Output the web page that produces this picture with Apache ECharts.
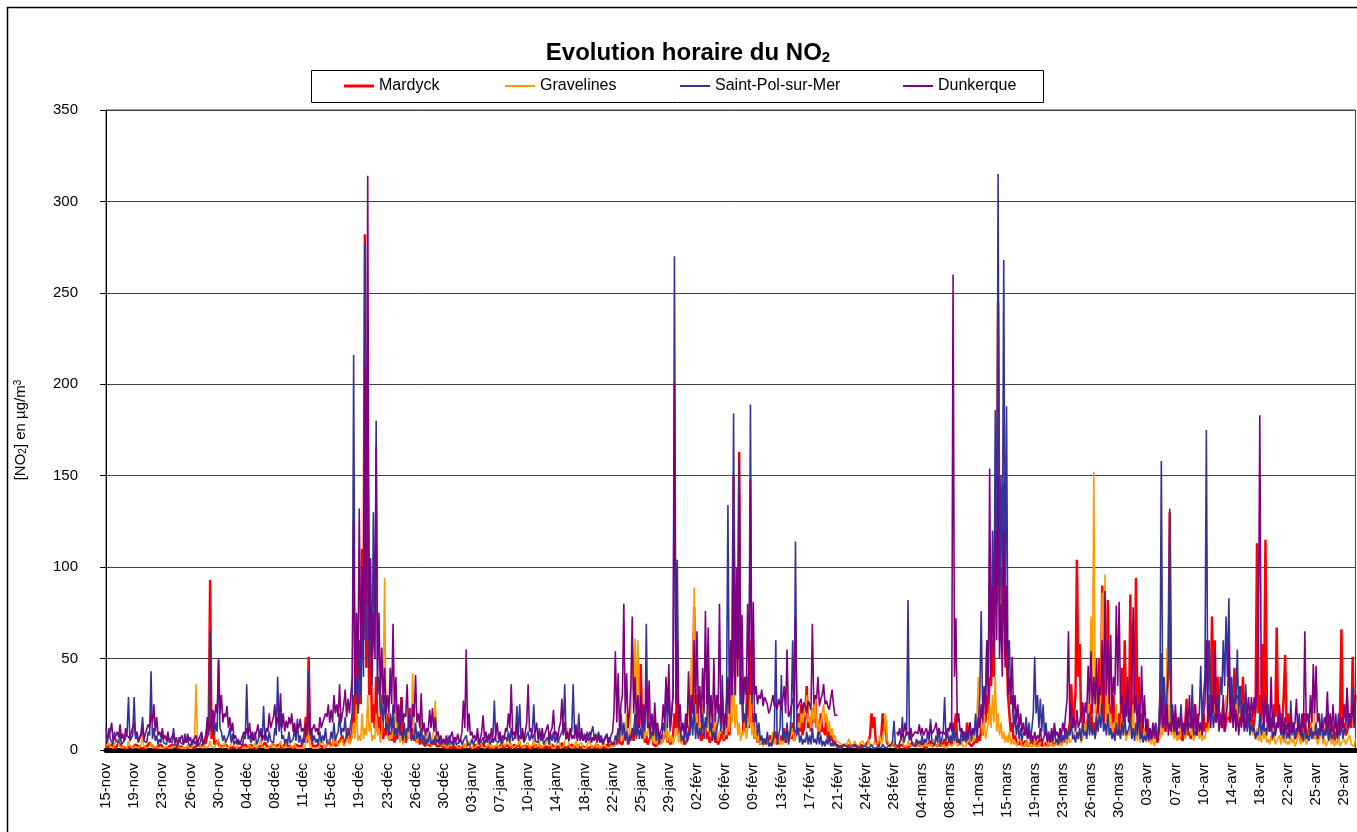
<!DOCTYPE html>
<html>
<head>
<meta charset="utf-8">
<title>Evolution horaire du NO2</title>
<script src="https://cdn.jsdelivr.net/npm/echarts@6/dist/echarts.min.js"></script>
<style>
  html, body { margin: 0; padding: 0; background: #fff; overflow: hidden; }
  #chart { width: 1357px; height: 832px; }
</style>
</head>
<body>
<div id="chart"></div>
<script>
// Axis tick labels, one every 20 samples (samples are 4.5 hours apart)
const tickLabels = ['15-nov','19-nov','23-nov','26-nov','30-nov','04-déc','08-déc','11-déc','15-déc','19-déc',
  '23-déc','26-déc','30-déc','03-janv','07-janv','10-janv','14-janv','18-janv','22-janv','25-janv',
  '29-janv','02-févr','06-févr','09-févr','13-févr','17-févr','21-févr','24-févr','28-févr','04-mars',
  '08-mars','11-mars','15-mars','19-mars','23-mars','26-mars','30-mars','03-avr','07-avr','10-avr',
  '14-avr','18-avr','22-avr','25-avr','29-avr'];
const stepsPerTick = 20;

// NO2 concentrations (µg/m3), one row of 20 samples per tick label
const mardyck = [
  3,1,2,3,4,2,1,1,2,4,5,2,3,1,2,1,1,2,3,1,
  2,3,4,2,3,1,1,1,2,2,3,4,5,2,2,1,1,2,2,3,
  3,1,2,1,1,2,2,3,4,2,2,1,1,2,3,1,2,1,1,2,
  2,2,3,1,1,3,4,2,2,3,3,4,5,12,93,6,20,3,4,5,
  6,2,3,2,2,3,4,1,2,1,1,2,3,1,2,1,1,2,2,3,
  3,1,2,3,4,1,2,1,1,2,3,2,2,4,5,1,2,2,3,3,
  4,2,2,3,3,1,1,3,5,2,2,2,3,1,2,3,4,2,3,2,
  5,8,18,4,51,10,6,2,3,2,2,3,4,2,3,1,2,3,5,3,
  4,3,6,2,3,4,5,6,8,3,4,7,12,4,6,10,30,15,60,20,
  40,25,110,60,282,45,150,30,60,15,25,12,40,10,18,8,30,6,12,8,
  20,6,10,5,15,4,8,6,12,10,29,5,10,4,8,12,23,6,12,5,
  8,4,10,3,6,4,5,2,8,3,4,2,6,3,5,2,3,2,4,2,
  3,1,2,3,4,1,2,2,3,1,1,2,2,1,3,2,2,3,4,1,
  2,1,3,2,1,1,2,3,4,1,2,2,3,1,2,1,1,2,3,1,
  2,3,4,1,3,2,2,1,1,2,3,1,2,3,4,1,2,2,3,2,
  3,1,2,1,1,3,4,1,2,2,3,1,2,2,1,1,2,3,3,1,
  2,2,3,1,4,2,2,1,1,2,2,3,3,1,2,3,4,1,2,2,
  3,1,2,1,1,2,3,1,2,3,2,1,1,2,2,1,3,2,2,3,
  4,2,6,3,10,4,5,3,8,6,12,3,4,8,10,5,15,8,30,12,
  47,15,12,4,8,3,5,6,10,3,4,2,6,3,8,4,5,8,12,4,
  8,3,5,8,20,12,39,8,10,4,6,3,4,5,8,15,40,20,78,18,
  30,8,12,5,8,10,15,6,10,4,6,8,12,4,8,3,5,4,10,5,
  8,6,12,8,20,40,150,30,90,50,163,25,30,10,15,20,40,12,60,15,
  20,6,10,4,8,3,5,4,6,3,4,6,8,3,5,4,10,3,6,4,
  8,5,12,4,6,8,10,6,15,5,8,12,20,10,25,8,12,20,35,12,
  18,10,22,15,30,12,15,8,20,10,12,8,18,6,10,5,8,4,5,3,
  4,2,3,2,2,3,3,2,2,3,4,2,3,2,2,1,3,2,2,2,
  3,2,5,8,20,12,18,5,4,2,3,8,20,10,15,4,3,2,2,3,
  2,2,3,1,2,3,4,2,3,1,2,2,3,4,5,2,2,3,3,2,
  4,2,2,1,3,4,5,2,2,3,3,2,4,2,3,4,6,2,4,3,
  5,3,8,12,20,4,6,3,4,6,10,5,15,4,5,2,3,4,6,4,
  8,5,12,8,20,15,30,20,40,35,60,40,121,80,245,90,100,70,146,50,
  60,30,20,10,15,6,8,4,5,3,6,2,4,3,5,2,3,4,6,3,
  5,2,4,3,6,2,3,4,5,2,4,3,8,2,3,4,5,3,6,4,
  8,4,12,6,10,15,36,12,20,30,104,40,58,15,26,10,15,8,20,12,
  25,10,15,8,18,25,50,20,90,15,30,45,82,25,20,12,30,10,15,8,
  20,12,45,15,60,20,30,15,85,10,25,30,94,20,40,10,20,8,12,6,
  17,6,8,5,10,6,14,4,6,20,53,12,25,10,30,40,130,20,15,8,
  15,8,10,6,12,5,8,15,28,8,10,6,12,20,25,10,8,12,15,10,
  20,10,15,12,30,20,73,25,60,15,40,18,20,12,25,10,15,20,20,15,
  25,20,45,18,30,25,35,15,40,20,30,12,25,15,20,10,15,25,113,20,
  30,15,58,20,115,25,20,10,15,12,25,18,67,15,20,10,15,30,52,15,
  20,8,10,12,15,6,8,10,12,5,10,15,20,6,8,12,15,8,10,6,
  12,6,8,10,15,8,10,12,20,6,8,15,12,5,10,8,6,20,66,12,
  15,8,10,14,20,12,51,18,30
];

const gravelines = [
  2,1,4,2,1,1,3,2,6,3,2,1,1,2,3,1,5,2,2,1,
  1,2,3,1,2,3,8,2,2,1,1,2,4,1,2,2,3,1,1,1,
  2,1,1,2,3,1,2,1,1,2,4,2,2,1,1,1,2,1,3,1,
  1,1,2,8,36,5,4,2,2,1,3,1,1,2,5,2,2,1,3,2,
  6,2,2,1,4,2,3,1,1,3,8,2,2,1,3,2,5,1,2,1,
  1,1,3,1,2,2,4,1,2,3,6,2,3,1,1,1,2,2,4,1,
  3,1,1,2,5,2,2,1,3,4,8,2,2,1,4,1,1,1,2,1,
  2,1,4,3,10,2,3,1,1,1,2,1,3,2,5,1,2,3,6,2,
  3,2,8,3,5,2,4,3,6,2,3,5,10,3,5,8,15,6,25,5,
  8,5,20,6,12,8,30,10,15,5,8,6,20,8,12,4,10,30,94,12,
  15,5,8,6,12,10,25,8,10,4,8,3,6,5,12,6,15,12,42,8,
  10,4,6,8,20,5,8,4,12,3,5,2,8,10,27,6,10,3,6,2,
  4,2,3,1,5,2,2,3,6,2,3,1,2,2,4,1,3,2,5,2,
  3,1,2,2,4,3,6,2,3,1,2,2,5,1,3,1,2,2,4,1,
  2,2,5,2,3,4,8,2,4,1,2,2,3,3,6,2,2,1,3,2,
  4,1,2,3,6,2,3,2,5,1,2,2,3,4,8,2,4,1,2,1,
  3,2,5,1,2,2,4,5,12,3,3,1,2,2,5,1,3,2,4,1,
  2,1,3,2,5,1,2,2,4,1,3,1,2,2,4,2,3,1,2,2,
  3,2,5,4,8,6,15,5,10,8,20,6,8,20,55,30,61,25,60,20,
  25,10,15,6,10,8,20,5,8,4,12,3,5,4,10,3,6,8,15,4,
  10,4,8,3,6,8,12,4,10,3,5,4,8,12,29,15,50,20,89,15,
  20,8,15,10,25,6,10,15,30,8,12,6,20,8,15,5,10,12,25,6,
  12,8,20,10,30,15,40,12,25,8,15,5,10,8,20,6,12,15,30,8,
  15,6,10,4,8,3,6,2,5,3,8,2,4,6,10,3,6,4,8,3,
  5,3,8,6,10,4,6,8,12,5,8,10,15,12,20,15,25,18,30,15,
  18,12,23,15,28,12,17,10,15,20,25,15,20,10,16,8,12,6,8,5,
  6,4,5,3,4,2,3,4,6,3,4,2,5,3,3,2,4,3,5,2,
  3,2,6,3,4,2,5,3,3,4,8,3,6,10,20,6,4,2,3,3,
  5,2,3,2,4,3,6,2,3,2,5,3,4,2,3,4,6,2,4,2,
  3,2,5,2,2,3,4,2,6,3,3,2,5,3,4,2,3,1,2,3,
  4,2,3,4,6,2,2,3,5,2,3,2,4,3,6,4,8,5,10,20,
  40,12,15,8,20,6,10,15,25,12,30,15,40,10,20,8,15,6,10,4,
  8,4,10,3,6,3,5,2,4,3,6,2,3,2,5,2,4,2,3,2,
  5,2,3,2,4,3,6,2,3,2,5,2,4,2,3,3,6,2,5,2,
  4,3,6,3,8,4,5,6,10,5,8,6,12,4,6,10,15,8,20,30,
  73,25,152,20,40,12,20,30,86,40,96,15,30,10,20,8,15,12,25,8,
  12,6,20,8,15,5,10,8,18,6,25,8,10,5,15,4,8,5,12,4,
  10,4,6,3,8,2,5,4,10,6,12,8,20,10,56,12,25,8,15,6,
  10,5,8,6,12,8,15,6,10,12,20,8,12,5,8,10,15,6,10,5,
  8,6,12,10,15,12,20,15,25,18,18,22,20,15,25,20,30,18,20,22,
  25,20,30,22,28,15,20,25,22,12,18,20,25,10,15,8,10,6,12,5,
  8,4,12,6,10,4,6,3,8,5,12,3,5,4,8,3,10,4,6,3,
  5,3,8,4,6,2,4,5,10,3,6,4,8,3,5,6,12,15,38,6,
  8,3,5,4,10,3,6,2,4,5,8,3,6,2,5,3,8,2,4,3,
  6,3,5,4,8,3,4,2,6
];

const saintPol = [
  8,4,12,6,5,3,10,5,6,4,9,3,4,5,7,10,29,5,6,8,
  29,6,8,4,5,10,18,5,6,4,10,8,43,6,12,5,8,3,6,4,
  10,4,5,3,8,5,6,4,12,3,4,2,7,4,5,3,9,4,6,3,
  4,3,6,3,5,2,3,4,8,3,5,6,12,8,65,10,20,8,15,10,
  50,12,10,5,8,4,6,8,12,4,9,3,5,3,6,4,4,2,8,6,
  36,6,8,4,6,5,10,3,5,8,12,6,24,5,8,4,10,5,6,4,
  12,8,40,10,20,6,8,4,6,3,10,4,5,6,12,5,17,4,8,3,
  6,4,10,8,44,10,12,5,8,4,6,3,10,4,8,5,12,4,5,4,
  10,6,15,5,8,10,20,8,12,10,18,6,10,8,15,20,216,30,40,20,
  60,30,70,40,277,60,217,45,80,35,130,50,180,30,40,20,25,15,30,10,
  15,8,20,10,25,8,12,6,18,8,10,5,15,6,12,10,20,5,8,6,
  15,6,10,5,12,4,8,3,6,4,10,3,5,3,8,4,6,3,5,3,
  6,3,4,5,8,3,5,2,7,3,3,4,6,3,5,4,8,3,4,3,
  6,3,5,4,8,3,4,5,7,3,6,4,9,3,5,8,27,5,6,4,
  8,3,5,4,7,5,10,4,12,5,6,8,24,8,25,6,8,4,6,5,
  10,5,8,10,25,5,6,4,12,5,8,3,5,4,7,3,9,5,10,4,
  8,4,6,5,10,12,36,6,8,5,12,10,36,8,10,6,20,5,8,5,
  9,6,10,5,7,8,13,6,8,5,10,6,8,4,6,5,9,5,7,4,
  5,3,8,5,12,6,20,8,15,5,10,4,8,5,12,8,20,6,15,6,
  12,6,18,10,69,12,15,6,10,8,20,5,12,4,8,6,15,10,38,12,
  35,10,20,30,270,40,104,15,12,5,8,4,15,5,10,8,20,8,25,6,
  15,6,12,8,20,6,18,12,50,10,15,5,10,6,12,15,25,10,41,8,
  15,30,134,20,60,40,184,30,80,50,160,25,40,15,20,12,30,50,189,25,
  50,15,20,8,15,5,8,3,6,3,10,2,4,2,5,10,60,4,8,12,
  41,5,10,4,15,3,8,20,60,10,114,8,12,4,8,3,6,4,10,3,
  8,3,12,4,6,3,10,3,8,2,5,2,6,3,8,2,4,2,5,2,
  3,1,2,1,3,2,2,1,1,1,2,1,3,2,2,1,1,2,2,1,
  2,1,1,2,3,1,2,1,1,2,2,1,3,2,1,1,2,1,3,5,
  16,3,4,2,3,6,18,4,5,10,82,5,8,3,4,2,6,3,5,3,
  8,3,6,4,10,5,17,4,5,3,8,4,12,3,6,10,29,5,10,4,
  8,4,15,5,10,4,6,3,12,5,8,4,10,6,15,5,12,8,20,6,
  15,30,76,20,30,25,60,35,100,40,120,60,186,80,315,60,150,90,268,70,
  188,40,60,25,30,12,20,8,15,6,12,5,10,8,18,6,15,5,12,20,
  51,20,30,12,28,10,25,8,15,5,10,4,8,5,12,4,6,3,10,4,
  8,5,12,6,10,8,15,6,8,4,10,6,12,5,15,8,10,6,20,8,
  15,8,12,6,18,10,20,12,25,10,15,8,20,8,12,6,10,5,15,8,
  12,6,15,8,20,8,10,12,18,6,12,5,15,8,20,6,10,4,8,5,
  10,5,12,6,8,10,15,6,10,30,158,20,40,15,30,50,132,15,25,10,
  20,8,15,12,25,10,12,8,20,10,15,12,36,8,10,8,15,20,46,15,
  30,40,175,25,60,20,25,12,20,15,30,20,40,30,60,35,73,40,83,25,
  40,20,30,25,55,20,35,15,25,12,36,10,20,8,15,10,12,6,10,8,
  20,8,15,10,12,8,25,10,18,6,10,8,15,12,20,8,12,6,15,6,
  10,6,27,8,15,6,12,10,20,8,10,5,15,6,8,5,12,6,10,8,
  15,6,12,8,20,6,10,8,15,5,12,6,8,10,20,6,10,8,15,6,
  12,10,34,12,20,15,34,12,15
];

const dunkerque = [
  12,6,8,10,15,5,6,8,10,7,14,6,9,5,12,8,7,6,10,9,
  15,8,10,5,6,8,12,6,9,10,14,12,20,15,25,10,18,8,10,7,
  12,6,8,5,10,4,6,5,9,4,7,3,5,4,8,3,6,4,9,5,
  7,3,5,4,8,3,6,5,10,3,4,8,18,10,15,12,22,15,25,20,
  49,20,30,15,20,18,24,12,18,10,15,6,8,5,6,3,5,6,10,8,
  12,8,15,6,10,5,8,10,14,7,10,5,8,6,12,10,20,12,15,18,
  25,12,18,15,31,12,20,10,16,12,18,14,20,10,15,8,14,12,17,10,
  12,10,15,12,20,8,10,9,14,10,12,8,18,12,15,14,20,18,25,15,
  22,15,30,20,25,18,36,15,20,25,33,18,28,20,30,40,125,30,75,40,
  132,50,100,60,210,80,314,60,105,40,75,50,166,40,75,30,56,25,45,20,
  30,20,45,25,69,20,40,15,25,12,29,15,20,18,36,12,15,10,25,18,
  41,15,20,12,31,10,15,8,12,10,22,12,23,10,18,8,10,5,8,4,
  6,4,8,3,5,6,10,4,7,5,9,4,6,10,27,12,55,10,20,8,
  10,6,8,5,12,4,6,10,19,6,10,5,8,6,12,4,6,8,15,6,
  10,5,8,6,12,10,20,12,36,8,10,6,15,5,8,6,12,5,10,15,
  36,10,12,6,8,10,15,6,10,5,12,6,9,8,14,6,10,12,22,8,
  10,6,12,15,28,8,15,6,10,5,12,6,8,6,14,5,10,6,12,5,
  8,4,6,5,10,4,7,5,9,4,8,4,6,3,5,4,8,3,6,5,
  10,20,54,15,42,10,25,30,80,20,42,12,20,35,73,20,40,15,30,12,
  30,12,25,15,35,12,38,10,20,8,26,10,15,6,10,12,25,15,40,20,
  47,12,20,30,201,25,60,15,25,10,15,8,20,12,43,15,30,20,60,25,
  65,20,35,15,45,20,76,25,67,15,30,12,50,15,30,20,80,15,30,10,
  20,12,40,20,60,30,120,35,100,40,140,30,74,25,40,30,80,35,148,30,
  81,30,35,25,30,28,33,24,29,30,25,20,22,26,30,24,26,22,28,25,
  22,28,35,20,55,18,20,24,25,30,73,22,22,26,28,20,26,24,20,27,
  25,22,69,25,30,28,40,24,28,30,36,25,27,24,22,28,33,25,19,20,
  19,null,null,null,null,null,null,null,null,null,null,null,null,null,null,null,null,null,null,null,
  null,null,null,null,null,null,null,null,null,null,null,null,null,null,null,null,null,null,null,null,
  null,null,10,8,12,6,8,10,15,8,10,6,12,7,8,10,10,9,14,8,
  12,8,10,12,8,10,14,9,10,12,15,8,12,9,8,10,10,8,12,10,
  15,10,260,40,72,15,20,10,12,8,10,6,8,10,15,8,10,9,12,10,
  18,12,25,15,35,20,60,30,154,40,90,50,120,60,150,50,80,40,120,45,
  90,30,40,25,51,20,30,15,25,12,20,10,15,8,12,6,10,6,8,5,
  10,5,8,6,12,4,6,5,10,4,8,5,12,6,15,8,10,6,12,8,
  15,10,20,27,65,15,25,12,18,10,22,12,15,20,26,15,26,20,46,25,
  54,20,40,25,50,20,35,30,60,25,87,30,60,25,63,20,40,30,79,35,
  81,25,30,15,25,18,40,15,20,30,78,20,30,12,25,15,46,12,30,10,
  17,8,12,6,15,8,10,5,8,15,30,12,20,10,25,8,15,10,20,12,
  25,10,18,12,20,8,15,10,22,12,30,12,18,10,25,8,20,10,15,8,
  20,25,60,15,25,12,30,20,55,15,25,10,20,12,30,10,20,25,58,15,
  30,12,25,10,20,8,18,12,25,10,15,20,29,15,29,18,29,20,40,60,
  183,30,25,12,30,15,20,10,40,12,20,8,15,12,25,10,20,8,18,10,
  15,8,20,10,12,15,28,10,15,8,20,12,65,15,20,12,30,15,47,20,
  46,15,20,10,15,12,18,14,32,12,20,10,25,12,15,8,20,10,18,12,
  25,15,34,12,20,18,25,15,30
];

const seriesNames = ['Mardyck', 'Gravelines', 'Saint-Pol-sur-Mer', 'Dunkerque'];
const seriesValues = [mardyck, gravelines, saintPol, dunkerque];
const seriesColors = ['#FF0000', '#FF9900', '#333399', '#800080'];
const lineWidths = [2.5, 1.6, 1.6, 1.6];
const legendLefts = [344, 505, 680, 903];

const FONT = 'Arial, "Liberation Sans", Helvetica, sans-serif';
const categories = mardyck.map((_, i) => String(i));

const chart = echarts.init(document.getElementById('chart'), null, { renderer: 'canvas' });

const option = {
  animation: false,
  backgroundColor: '#ffffff',
  title: {
    text: 'Evolution horaire du NO{sub|2}',
    left: 683,
    top: 36,
    textAlign: 'center',
    textStyle: {
      fontFamily: FONT, fontSize: 24, fontWeight: 'bold', color: '#000',
      rich: {
        sub: { fontFamily: FONT, fontSize: 15, fontWeight: 'bold', color: '#000',
               verticalAlign: 'bottom', lineHeight: 12 }
      }
    }
  },
  legend: seriesNames.map((name, i) => ({
    data: [name],
    left: legendLefts[i],
    top: 78,
    padding: 0,
    icon: 'rect',
    itemWidth: 30,
    itemHeight: i === 0 ? 3 : 2,
    selectedMode: false,
    textStyle: { fontFamily: FONT, fontSize: 16, color: '#000' }
  })),
  graphic: [
    { // outer chart frame
      type: 'rect', silent: true, z: -10,
      shape: { x: 7.5, y: 7.5, width: 1420, height: 900 },
      style: { fill: 'none', stroke: '#000', lineWidth: 1.5 }
    },
    { // legend box
      type: 'rect', silent: true, z: -5,
      shape: { x: 311.5, y: 70.5, width: 732, height: 32 },
      style: { fill: '#fff', stroke: '#000', lineWidth: 1 }
    }
  ],
  grid: {
    left: 106, right: 1.5, top: 110, bottom: 82,
    show: true, borderColor: '#404040', borderWidth: 1, backgroundColor: 'transparent'
  },
  xAxis: {
    type: 'category',
    data: categories,
    boundaryGap: false,
    offset: 3,
    axisLine: { show: true, lineStyle: { color: '#000', width: 5 } },
    axisTick: { show: false },
    splitLine: { show: false },
    axisLabel: {
      interval: stepsPerTick - 1,
      rotate: 90,
      margin: 10,
      fontFamily: FONT, fontSize: 15, color: '#000',
      formatter: (value, idx) => tickLabels[idx / stepsPerTick] || ''
    }
  },
  yAxis: {
    type: 'value',
    min: 0, max: 350, interval: 50,
    name: '[NO{sub|2}] en µg/m{sup|3}',
    nameLocation: 'middle',
    nameGap: 78,
    nameTextStyle: {
      fontFamily: FONT, fontSize: 15, color: '#000',
      rich: {
        sub: { fontFamily: FONT, fontSize: 10, color: '#000', verticalAlign: 'bottom', lineHeight: 10 },
        sup: { fontFamily: FONT, fontSize: 10, color: '#000', verticalAlign: 'top', lineHeight: 10 }
      }
    },
    axisLine: { show: true, lineStyle: { color: '#000', width: 1 } },
    axisTick: { show: true, length: 6, lineStyle: { color: '#000' } },
    axisLabel: { fontFamily: FONT, fontSize: 15, color: '#000', margin: 28 },
    splitLine: { show: true, lineStyle: { color: '#404040', width: 1 } }
  },
  series: seriesNames.map((name, i) => ({
    name: name,
    type: 'line',
    data: seriesValues[i],
    symbol: 'none',
    showSymbol: false,
    connectNulls: false,
    z: 2 + i,
    lineStyle: { color: seriesColors[i], width: lineWidths[i], join: 'bevel' },
    itemStyle: { color: seriesColors[i] },
    emphasis: { disabled: true }
  }))
};

chart.setOption(option);
</script>
</body>
</html>
